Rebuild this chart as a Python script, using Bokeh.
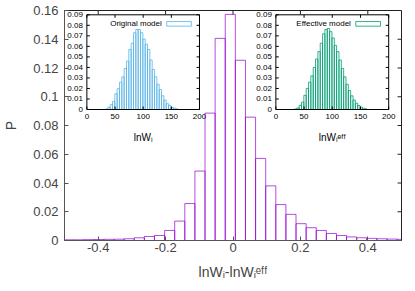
import numpy as np
from bokeh.plotting import figure
from bokeh.models import Range1d, FixedTicker
from bokeh.core.properties import value
from bokeh.embed import file_html
from bokeh.resources import INLINE

# ---------------- data ----------------
# main histogram: difference lnW_i - lnW_i^eff
diff_bin_width = 0.03
diff_centers = [-0.488, -0.458, -0.428, -0.398, -0.368, -0.338, -0.308, -0.278,
                -0.248, -0.218, -0.188, -0.158, -0.128, -0.098, -0.068, -0.038,
                -0.008, 0.022, 0.052, 0.082, 0.112, 0.142, 0.172, 0.202,
                0.232, 0.262, 0.292, 0.322, 0.352, 0.382, 0.412, 0.442,
                0.472, 0.502]
diff_P = [0.0005, 0.0005, 0.0006, 0.0007, 0.0008, 0.0009, 0.0012, 0.0019,
          0.0028, 0.0035, 0.0070, 0.0135, 0.0257, 0.0483, 0.0886, 0.1406,
          0.1573, 0.1254, 0.0858, 0.0571, 0.0380, 0.0250, 0.0182, 0.0117,
          0.0089, 0.0070, 0.0049, 0.0035, 0.0025, 0.0019, 0.0015, 0.0012,
          0.0010, 0.0008]

# inset histograms: lnW_i (original) and lnW_i^eff (effective)
lnw_bin_width = 4.15
lnw_centers = [35.1, 39.2, 43.4, 47.5, 51.7, 55.8, 60.0, 64.1, 68.3, 72.4,
               76.6, 80.7, 84.9, 89.0, 93.2, 97.3, 101.5, 105.6, 109.8, 113.9,
               118.1, 122.2, 126.4, 130.5, 134.7, 138.8, 143.0, 147.1, 151.3,
               155.4, 159.6]
orig_P = [0.0005, 0.0020, 0.0045, 0.0075, 0.0150, 0.0197, 0.0260, 0.0310,
          0.0390, 0.0460, 0.0570, 0.0630, 0.0730, 0.0760, 0.0760, 0.0730,
          0.0670, 0.0620, 0.0570, 0.0470, 0.0380, 0.0310, 0.0240, 0.0190,
          0.0130, 0.0090, 0.0055, 0.0038, 0.0020, 0.0013, 0.0006]
eff_P = [0.0005, 0.0015, 0.0040, 0.0070, 0.0135, 0.0200, 0.0260, 0.0320,
         0.0400, 0.0480, 0.0550, 0.0630, 0.0720, 0.0760, 0.0770, 0.0740,
         0.0680, 0.0610, 0.0550, 0.0470, 0.0390, 0.0310, 0.0240, 0.0180,
         0.0130, 0.0090, 0.0060, 0.0038, 0.0022, 0.0012, 0.0006]

main_xticks = [-0.4, -0.2, 0, 0.2, 0.4]
main_xtick_labels = ["-0.4", "-0.2", "0", "0.2", "0.4"]
main_yticks = [0, 0.02, 0.04, 0.06, 0.08, 0.1, 0.12, 0.14, 0.16]
main_ytick_labels = ["0", "0.02", "0.04", "0.06", "0.08", "0.1", "0.12", "0.14", "0.16"]
inset_xticks = [0, 50, 100, 150, 200]
inset_xtick_labels = ["0", "50", "100", "150", "200"]
inset_yticks = [0, 0.01, 0.02, 0.03, 0.04, 0.05, 0.06, 0.07, 0.08, 0.09]
inset_ytick_labels = ["0", "0.01", "0.02", "0.03", "0.04", "0.05", "0.06", "0.07", "0.08", "0.09"]

# ---------------- layout / style constants ----------------
FONT = "Liberation Sans"
PURPLE = "#9400D3"
BLUE = "#56B4E9"
GREEN = "#009E73"

W, H = 405, 283
FL, FR, FT, FB = 59, 401, 10, 240            # main frame edges (px)
XR = (-0.5, 0.5)
YR = (0.0, 0.16)
IX = (0, 200)
IY = (0.0, 0.09)
INSETS = [  # frame edges (px) of the two insets
    dict(l=81.7, r=196.0, t=14.3, b=109.0),
    dict(l=273.5, r=388.0, t=14.3, b=109.0),
]

main = figure(width=W, height=H, x_range=Range1d(*XR), y_range=Range1d(*YR),
              output_backend="svg", toolbar_location=None,
              min_border_left=FL, min_border_right=W - FR,
              min_border_top=FT, min_border_bottom=H - FB)
main.xgrid.visible = False
main.ygrid.visible = False
main.outline_line_color = "#222222"
main.background_fill_color = "white"

dc = np.array(diff_centers)
main.quad(left=dc - diff_bin_width / 2, right=dc + diff_bin_width / 2, bottom=0, top=diff_P,
          fill_color=None, line_color=PURPLE, line_alpha=0.7, line_width=1)

for ax, ticks, labels, standoff in [(main.xaxis[0], main_xticks, main_xtick_labels, 2),
                                    (main.yaxis[0], main_yticks, main_ytick_labels, 6)]:
    ax.ticker = FixedTicker(ticks=ticks)
    ax.major_label_overrides = dict(zip(ticks, labels))
    ax.major_tick_in = 4
    ax.major_tick_out = 0
    ax.minor_tick_line_color = None
    ax.major_label_text_font = FONT
    ax.major_label_text_font_size = "13px"
    ax.major_label_standoff = standoff
    ax.axis_line_color = "#555555"
    ax.major_tick_line_color = "#555555"
    ax.axis_label_text_font = FONT
    ax.axis_label_text_font_style = "normal"
    ax.axis_label_text_font_size = "14px"

main.xaxis[0].axis_label = "lnWᵢ-lnWᵢᵉᶠᶠ"
main.xaxis[0].axis_label_standoff = 9
main.yaxis[0].axis_label = "P"
main.yaxis[0].axis_label_standoff = 11

# mirrored inward ticks on the top and right frame edges
mpx_x = (FR - FL) / (XR[1] - XR[0])
mpx_y = (FB - FT) / (YR[1] - YR[0])
mt = np.array(main_xticks, dtype=float)
main.segment(x0=mt, y0=YR[1], x1=mt, y1=YR[1] - 4 / mpx_y, line_color="#222222", line_width=1)
my = np.array(main_yticks, dtype=float)
main.segment(x0=XR[1], y0=my, x1=XR[1] - 4 / mpx_x, y1=my, line_color="#222222", line_width=1)

# ---------------- insets (drawn in their own ranges inside the main frame) ----------------
def add_inset(idx, vals, color, legend_text, xlabel):
    g = INSETS[idx]
    sx = (g["r"] - g["l"]) / (IX[1] - IX[0])
    sy = (g["b"] - g["t"]) / (IY[1] - IY[0])
    xname, yname = f"ix{idx}", f"iy{idx}"
    main.extra_x_ranges[xname] = Range1d(IX[0] - (g["l"] - FL) / sx, IX[1] + (FR - g["r"]) / sx)
    main.extra_y_ranges[yname] = Range1d(IY[0] - (FB - g["b"]) / sy, IY[1] + (g["t"] - FT) / sy)
    kw = dict(x_range_name=xname, y_range_name=yname)

    main.quad(left=IX[0], right=IX[1], bottom=IY[0], top=IY[1], fill_color="white",
              line_color=None, **kw)
    lc = np.array(lnw_centers)
    main.quad(left=lc - lnw_bin_width / 2, right=lc + lnw_bin_width / 2, bottom=0, top=vals,
              fill_color=None, line_color=color, line_alpha=0.8, line_width=1, **kw)
    main.quad(left=IX[0], right=IX[1], bottom=IY[0], top=IY[1], fill_color=None,
              line_color="black", line_width=1, **kw)

    xt = np.array(inset_xticks, dtype=float)
    yt = np.array(inset_yticks, dtype=float)
    tl = 3
    main.segment(x0=xt, y0=IY[0], x1=xt, y1=IY[0] + tl / sy, line_color="black", **kw)
    main.segment(x0=xt, y0=IY[1], x1=xt, y1=IY[1] - tl / sy, line_color="black", **kw)
    main.segment(x0=IX[0], y0=yt, x1=IX[0] + tl / sx, y1=yt, line_color="black", **kw)
    main.segment(x0=IX[1], y0=yt, x1=IX[1] - tl / sx, y1=yt, line_color="black", **kw)

    main.text(x=xt, y=[IY[0]] * len(xt), text=inset_xtick_labels, text_align="center",
              text_baseline="top", y_offset=4, text_font=value(FONT), text_font_size="8px",
              text_color="black", **kw)
    main.text(x=[IX[0]] * len(yt), y=yt, text=inset_ytick_labels, text_align="right",
              text_baseline="middle", x_offset=-4, text_font=value(FONT), text_font_size="8px",
              text_color="black", **kw)
    main.text(x=[(IX[0] + IX[1]) / 2], y=[IY[0]], text=[xlabel], text_align="center",
              text_baseline="middle", y_offset=28, text_font=value(FONT), text_font_size="10px",
              text_color="black", **kw)

    # key: text on the left, sample box on the right
    main.text(x=[133], y=[0.0814], text=[legend_text], text_align="right",
              text_baseline="middle", text_font=value(FONT), text_font_size="8px",
              text_color="black", **kw)
    main.quad(left=141.7, right=185.5, bottom=0.0792, top=0.0836, fill_color=None,
              line_color=color, line_alpha=0.8, line_width=1, **kw)


add_inset(0, orig_P, BLUE, "Original model", "lnWᵢ")
add_inset(1, eff_P, GREEN, "Effective model", "lnWᵢᵉᶠᶠ")

open("out.html", "w").write(file_html(main, INLINE))
